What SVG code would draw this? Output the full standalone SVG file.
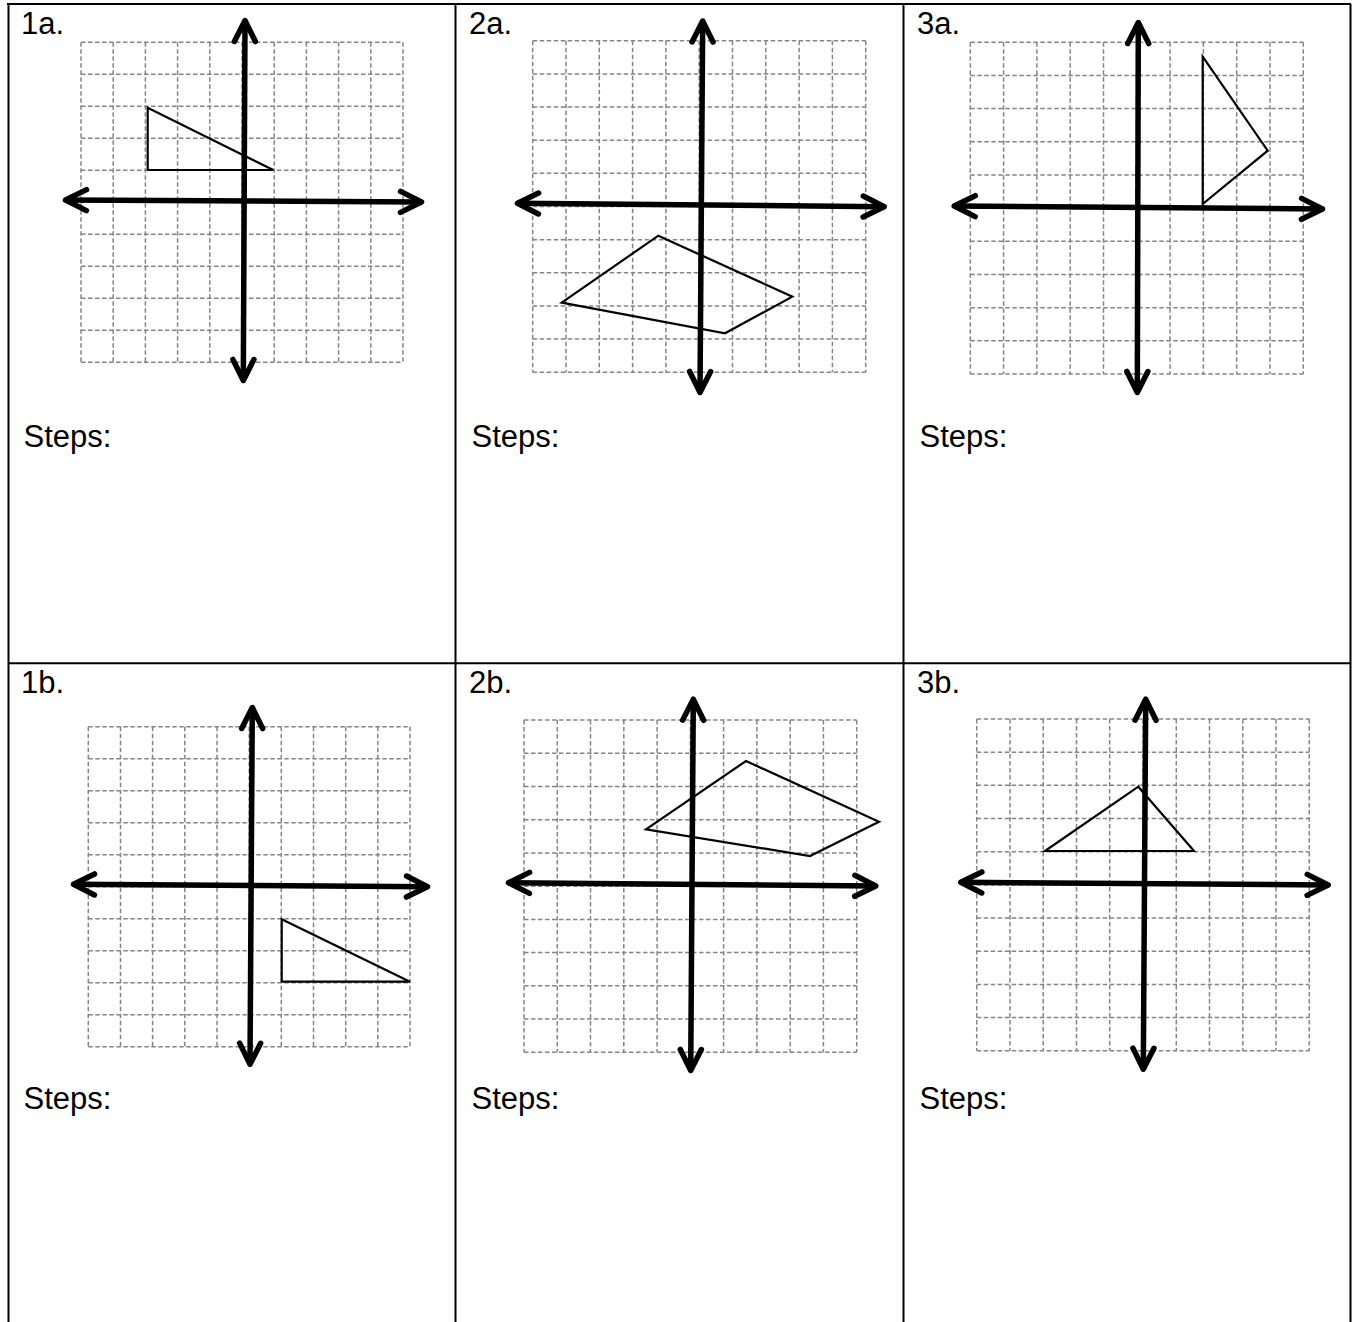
<svg xmlns="http://www.w3.org/2000/svg" width="1353" height="1322" viewBox="0 0 1353 1322">
<style>
.grid{fill:none;stroke:#858585;stroke-width:1.5;stroke-dasharray:4.5 2.5}
.axis{fill:none;stroke:#000;stroke-width:5.5;marker-start:url(#ah);marker-end:url(#ah)}
.shape{fill:none;stroke:#000;stroke-width:2.2;stroke-linejoin:miter}
.tbl{fill:none;stroke:#000;stroke-width:2}
.lbl{font-family:"Liberation Sans",Arial,sans-serif;font-size:31px;fill:#000}
</style>
<defs>
<marker id="ah" viewBox="-30 -16 36 32" refX="0" refY="0" markerWidth="36" markerHeight="32" markerUnits="userSpaceOnUse" orient="auto-start-reverse">
<path d="M-21 -10.5L0 0L-21 10.5" fill="none" stroke="#000" stroke-width="5.5" stroke-linecap="round" stroke-linejoin="round"/>
</marker>
</defs>
<rect width="1353" height="1322" fill="#fff"/>
<g id="table">
<path class="tbl" d="M7 4H1351M8.5 4V1322M455.5 4V1322M903.5 4V1322M1350.5 4V1322M8.5 663.3H1350.5"/>
</g>
<g id="panel-1a">
<path class="grid" d="M81 42.3V362.3M113.2 42.3V362.3M145.4 42.3V362.3M177.6 42.3V362.3M209.8 42.3V362.3M242 42.3V362.3M274.2 42.3V362.3M306.4 42.3V362.3M338.6 42.3V362.3M370.8 42.3V362.3M403 42.3V362.3M81 42.3H403M81 74.3H403M81 106.3H403M81 138.3H403M81 170.3H403M81 202.3H403M81 234.3H403M81 266.3H403M81 298.3H403M81 330.3H403M81 362.3H403"/>
<path class="axis" d="M65.5 200L421.5 202"/>
<path class="axis" d="M245 20.5L243.3 380.5"/>
<polygon class="shape" points="147.7,107.7 147.7,170 273.3,170"/>
<text class="lbl" x="21" y="34">1a.</text>
<text class="lbl" x="23.5" y="447">Steps:</text>
</g>
<g id="panel-2a">
<path class="grid" d="M532.7 40.7V372.3M566 40.7V372.3M599.3 40.7V372.3M632.6 40.7V372.3M665.9 40.7V372.3M699.2 40.7V372.3M732.5 40.7V372.3M765.8 40.7V372.3M799.1 40.7V372.3M832.4 40.7V372.3M865.7 40.7V372.3M532.7 40.7H865.7M532.7 73.9H865.7M532.7 107H865.7M532.7 140.2H865.7M532.7 173.3H865.7M532.7 206.5H865.7M532.7 239.7H865.7M532.7 272.8H865.7M532.7 306H865.7M532.7 339.1H865.7M532.7 372.3H865.7"/>
<path class="axis" d="M517.5 203.3L884.2 206.7"/>
<path class="axis" d="M702.7 21L700 392.5"/>
<polygon class="shape" points="658.3,235.7 792.3,296.7 725,333.3 561.7,302.7"/>
<text class="lbl" x="469" y="34">2a.</text>
<text class="lbl" x="471.5" y="447">Steps:</text>
</g>
<g id="panel-3a">
<path class="grid" d="M970.3 42.3V374M1003.6 42.3V374M1036.9 42.3V374M1070.2 42.3V374M1103.5 42.3V374M1136.8 42.3V374M1170.1 42.3V374M1203.4 42.3V374M1236.7 42.3V374M1270 42.3V374M1303.3 42.3V374M970.3 42.3H1303.3M970.3 75.5H1303.3M970.3 108.6H1303.3M970.3 141.8H1303.3M970.3 175H1303.3M970.3 208.2H1303.3M970.3 241.3H1303.3M970.3 274.5H1303.3M970.3 307.7H1303.3M970.3 340.8H1303.3M970.3 374H1303.3"/>
<path class="axis" d="M954.2 206L1322.5 209"/>
<path class="axis" d="M1138.3 22.5L1137.3 392.5"/>
<polygon class="shape" points="1202.7,56.7 1267.7,150.7 1202.7,204"/>
<text class="lbl" x="917" y="34">3a.</text>
<text class="lbl" x="919.5" y="447">Steps:</text>
</g>
<g id="panel-1b">
<path class="grid" d="M88.3 726.7V1046.7M120.5 726.7V1046.7M152.6 726.7V1046.7M184.8 726.7V1046.7M217 726.7V1046.7M249.2 726.7V1046.7M281.3 726.7V1046.7M313.5 726.7V1046.7M345.7 726.7V1046.7M377.8 726.7V1046.7M410 726.7V1046.7M88.3 726.7H410M88.3 758.7H410M88.3 790.7H410M88.3 822.7H410M88.3 854.7H410M88.3 886.7H410M88.3 918.7H410M88.3 950.7H410M88.3 982.7H410M88.3 1014.7H410M88.3 1046.7H410"/>
<path class="axis" d="M73.5 884.3L427.5 886.7"/>
<path class="axis" d="M252.3 707.5L250 1064.2"/>
<polygon class="shape" points="281.7,919.3 410,981.7 281.7,981.7"/>
<text class="lbl" x="21" y="693">1b.</text>
<text class="lbl" x="23.5" y="1109">Steps:</text>
</g>
<g id="panel-2b">
<path class="grid" d="M524 720V1052.3M557.3 720V1052.3M590.5 720V1052.3M623.8 720V1052.3M657.1 720V1052.3M690.4 720V1052.3M723.6 720V1052.3M756.9 720V1052.3M790.2 720V1052.3M823.4 720V1052.3M856.7 720V1052.3M524 720H856.7M524 753.2H856.7M524 786.5H856.7M524 819.7H856.7M524 852.9H856.7M524 886.2H856.7M524 919.4H856.7M524 952.6H856.7M524 985.8H856.7M524 1019.1H856.7M524 1052.3H856.7"/>
<path class="axis" d="M508.5 882.7L875.8 886"/>
<path class="axis" d="M693.3 699.2L690.7 1070.5"/>
<polygon class="shape" points="746,761 879,821.7 810,856 646,829.3"/>
<text class="lbl" x="469" y="693">2b.</text>
<text class="lbl" x="471.5" y="1109">Steps:</text>
</g>
<g id="panel-3b">
<path class="grid" d="M976.7 719V1050.7M1010 719V1050.7M1043.2 719V1050.7M1076.5 719V1050.7M1109.7 719V1050.7M1143 719V1050.7M1176.3 719V1050.7M1209.5 719V1050.7M1242.8 719V1050.7M1276 719V1050.7M1309.3 719V1050.7M976.7 719H1309.3M976.7 752.2H1309.3M976.7 785.3H1309.3M976.7 818.5H1309.3M976.7 851.7H1309.3M976.7 884.9H1309.3M976.7 918H1309.3M976.7 951.2H1309.3M976.7 984.4H1309.3M976.7 1017.5H1309.3M976.7 1050.7H1309.3"/>
<path class="axis" d="M960.8 882.3L1328.2 885"/>
<path class="axis" d="M1145.7 699.2L1143.3 1069.2"/>
<polygon class="shape" points="1138.3,786.7 1194,851 1045,851"/>
<text class="lbl" x="917" y="693">3b.</text>
<text class="lbl" x="919.5" y="1109">Steps:</text>
</g>
</svg>
